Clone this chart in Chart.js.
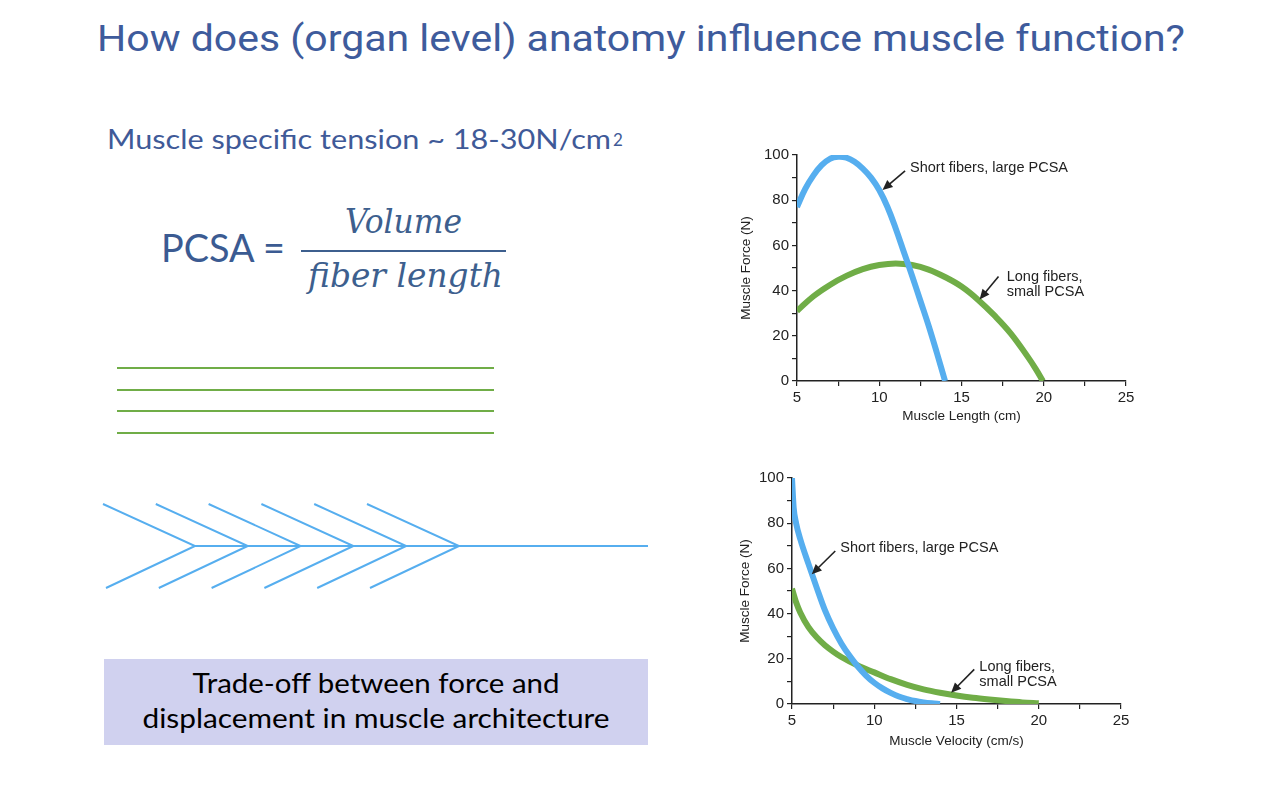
<!DOCTYPE html>
<html>
<head>
<meta charset="utf-8">
<title>Muscle architecture</title>
<script src="https://cdn.jsdelivr.net/npm/chart.js@4"></script>
<style>
  html, body { margin: 0; padding: 0; background: #fff; }
  #slide { position: relative; width: 1280px; height: 800px; overflow: hidden; }
  #art { position: absolute; left: 0; top: 0; }
  .chartBox { position: absolute; width: 420px; height: 295px; }
</style>
</head>
<body>
<div id="slide">
  <svg id="art" width="1280" height="800">
    <text x="97" y="51" textLength="1088" lengthAdjust="spacingAndGlyphs"
          font-family="Roboto" font-size="37" fill="#3E5B9C">How does (organ level) anatomy influence muscle function?</text>

    <text x="107" y="149" textLength="504" lengthAdjust="spacingAndGlyphs"
          font-family="Lato" font-size="27" fill="#3F5A98">Muscle specific tension ~ 18-30N/cm</text>
    <text x="613" y="146" font-family="Lato" font-size="17" fill="#3F5A98">2</text>

    <text x="161" y="262" textLength="124" lengthAdjust="spacingAndGlyphs"
          font-family="Lato" font-size="39" fill="#3B5B92">PCSA =</text>
    <text x="345" y="233" textLength="117" lengthAdjust="spacingAndGlyphs"
          font-family="DejaVu Serif" font-style="italic" font-size="34" fill="#3D5F8E">Volume</text>
    <line x1="301" y1="251" x2="506" y2="251" stroke="#3D5F8E" stroke-width="2"/>
    <text x="308" y="287" textLength="195" lengthAdjust="spacingAndGlyphs"
          font-family="DejaVu Serif" font-style="italic" font-size="34" fill="#3D5F8E">fiber length</text>

    <g stroke="#70AD47" stroke-width="2">
      <line x1="117" y1="368" x2="494" y2="368"/>
      <line x1="117" y1="390" x2="494" y2="390"/>
      <line x1="117" y1="411" x2="494" y2="411"/>
      <line x1="117" y1="433" x2="494" y2="433"/>
    </g>

    <g stroke="#56AEEF" stroke-width="2" fill="none" id="fish">
      <line x1="195" y1="546" x2="648" y2="546"/>
    </g>

    <rect x="104" y="659" width="544" height="86" fill="#D0D1EF"/>
    <text x="376" y="693" text-anchor="middle" textLength="367" lengthAdjust="spacingAndGlyphs"
          font-family="Lato" font-size="27" fill="#000">Trade-off between force and</text>
    <text x="376" y="728" text-anchor="middle" textLength="467" lengthAdjust="spacingAndGlyphs"
          font-family="Lato" font-size="27" fill="#000">displacement in muscle architecture</text>
  </svg>

  <div class="chartBox" style="left:730px;top:140px"><canvas id="lengthChart"></canvas></div>
  <div class="chartBox" style="left:725px;top:463px"><canvas id="velocityChart"></canvas></div>
</div>

<script>
// force-length: short fibers / large PCSA
const lengthShortX = [5, 5.5, 6, 6.5, 7, 7.5, 8, 8.5, 9, 9.5, 10, 10.5, 11, 11.5, 12, 12.5, 13, 13.5, 14];
const lengthShortF = [77, 85, 91, 95.5, 98.3, 99.2, 98.8, 97, 94, 90, 84.5, 77, 67.5, 57, 46.5, 35.5, 24.5, 12.5, 0];
// force-length: long fibers / small PCSA
const lengthLongX = [5, 6, 7, 8, 9, 10, 11, 12, 13, 14, 15, 16, 17, 18, 19, 19.5, 19.95];
const lengthLongF = [31, 37.5, 42.5, 46.5, 49.5, 51.3, 52, 51.3, 49.3, 46, 41.8, 36, 29, 21, 11, 5.5, 0];

// force-velocity: short fibers / large PCSA
const velShortX = [5, 5.1, 5.25, 5.5, 6, 6.5, 7, 7.5, 8, 8.5, 9, 9.5, 10, 10.5, 11, 11.5, 12, 12.5, 13, 13.5, 14];
const velShortF = [100, 87, 80, 73, 62, 51.5, 41.5, 33.5, 26.8, 21.3, 16.6, 12.6, 9.4, 6.9, 4.9, 3.3, 2.2, 1.3, 0.7, 0.3, 0];
// force-velocity: long fibers / small PCSA
const velLongX = [5, 5.25, 5.5, 6, 6.5, 7, 7.5, 8, 9, 10, 11, 12, 13, 14, 15, 16, 17, 18, 19, 20];
const velLongF = [51, 45, 40.5, 34, 29.5, 26, 23.2, 20.8, 17, 14, 11, 8.5, 6.5, 5, 3.8, 2.8, 2, 1.3, 0.7, 0.3];

const xTicks = { min: 5, max: 25, step: 2.5, labelEvery: 5 };
const yTicks = { min: 0, max: 100, step: 10, labelEvery: 20 };

const BLUE = '#56AEEF';
const GREEN = '#70AD47';
const INK = '#222';
const FONT = "'Liberation Sans', Arial, sans-serif";

// fishbone chevrons (decoration, left side of slide)
(function drawFish() {
  const g = document.getElementById('fish');
  for (let i = 0; i < 6; i++) {
    const vx = 195 + i * 52.8;
    const p = document.createElementNS('http://www.w3.org/2000/svg', 'polyline');
    p.setAttribute('points', (vx - 92) + ',504 ' + vx + ',546 ' + (vx - 89) + ',588');
    g.appendChild(p);
  }
})();

function pts(xs, ys) {
  return xs.map((x, i) => ({ x: x, y: ys[i] }));
}

// labels with arrows, placed in data units
const arrowNotes = {
  lengthChart: [
    { lines: ['Short fibers, large PCSA'], at: [11.87, 94.2], from: [11.57, 93], to: [10.2, 84.5] },
    { lines: ['Long fibers,', 'small PCSA'], at: [17.75, 46.2], from: [17.25, 46.2], to: [16.1, 36.1] }
  ],
  velocityChart: [
    { lines: ['Short fibers, large PCSA'], at: [7.94, 68.9], from: [7.63, 67.7], to: [6.2, 57.4] },
    { lines: ['Long fibers,', 'small PCSA'], at: [16.39, 16.5], from: [16.08, 15.3], to: [14.67, 5.0] }
  ]
};

const notesPlugin = {
  id: 'notes',
  afterDatasetsDraw(chart) {
    const notes = arrowNotes[chart.canvas.id] || [];
    const { ctx, scales: { x, y } } = chart;
    ctx.save();
    ctx.fillStyle = INK;
    ctx.strokeStyle = INK;
    ctx.font = '14.5px ' + FONT;
    ctx.textAlign = 'left';
    ctx.textBaseline = 'middle';
    notes.forEach(n => {
      const tx = x.getPixelForValue(n.at[0]);
      const ty = y.getPixelForValue(n.at[1]);
      n.lines.forEach((t, i) => ctx.fillText(t, tx, ty + i * 15.5));
      const x0 = x.getPixelForValue(n.from[0]), y0 = y.getPixelForValue(n.from[1]);
      const x1 = x.getPixelForValue(n.to[0]), y1 = y.getPixelForValue(n.to[1]);
      const a = Math.atan2(y1 - y0, x1 - x0);
      ctx.lineWidth = 1.6;
      ctx.beginPath();
      ctx.moveTo(x0, y0);
      ctx.lineTo(x1 - 6 * Math.cos(a), y1 - 6 * Math.sin(a));
      ctx.stroke();
      ctx.beginPath();
      ctx.moveTo(x1, y1);
      ctx.lineTo(x1 - 10 * Math.cos(a) + 4.5 * Math.sin(a), y1 - 10 * Math.sin(a) - 4.5 * Math.cos(a));
      ctx.lineTo(x1 - 10 * Math.cos(a) - 4.5 * Math.sin(a), y1 - 10 * Math.sin(a) + 4.5 * Math.cos(a));
      ctx.closePath();
      ctx.fill();
    });
    ctx.restore();
  }
};

function curve(data, color, smooth) {
  const ds = {
    data: data,
    borderColor: color,
    borderWidth: 6,
    pointRadius: 0,
    fill: false,
    borderCapStyle: 'butt'
  };
  if (smooth === 'monotone') ds.cubicInterpolationMode = 'monotone';
  else ds.tension = 0.4;
  return ds;
}

function axisOpts(t, title, titlePad, fit) {
  return {
    type: 'linear',
    min: t.min,
    max: t.max,
    border: { color: INK, width: 1.5 },
    grid: { drawOnChartArea: false, drawTicks: true, tickLength: 5, color: INK, lineWidth: 1.2 },
    ticks: {
      stepSize: t.step,
      autoSkip: false,
      maxRotation: 0,
      padding: 3,
      color: INK,
      font: { family: FONT, size: 15 },
      callback: v => (v % t.labelEvery === 0 ? v : '')
    },
    title: { display: true, text: title, color: INK, font: { family: FONT, size: 13.5 }, padding: titlePad },
    afterFit: fit
  };
}

function makeChart(id, sets, xTitle, yPadLeft, xPadBottom) {
  return new Chart(document.getElementById(id), {
    type: 'line',
    data: { datasets: sets },
    options: {
      responsive: true,
      maintainAspectRatio: false,
      animation: false,
      layout: { padding: { top: 15, right: 24, left: 0, bottom: 0 } },
      plugins: { legend: { display: false }, tooltip: { enabled: false } },
      scales: {
        x: axisOpts(xTicks, xTitle, { top: 0, bottom: xPadBottom }, s => { s.height = 54; }),
        y: axisOpts(yTicks, 'Muscle Force (N)', { top: yPadLeft, bottom: 0 }, s => { s.width = 67; })
      }
    },
    plugins: [notesPlugin]
  });
}

makeChart('lengthChart', [
  curve(pts(lengthShortX, lengthShortF), BLUE),
  curve(pts(lengthLongX, lengthLongF), GREEN)
], 'Muscle Length (cm)', 8.6, 10.2);

makeChart('velocityChart', [
  curve(pts(velShortX, velShortF), BLUE, 'monotone'),
  curve(pts(velLongX, velLongF), GREEN, 'monotone')
], 'Muscle Velocity (cm/s)', 11.9, 8.2);
</script>
</body>
</html>
